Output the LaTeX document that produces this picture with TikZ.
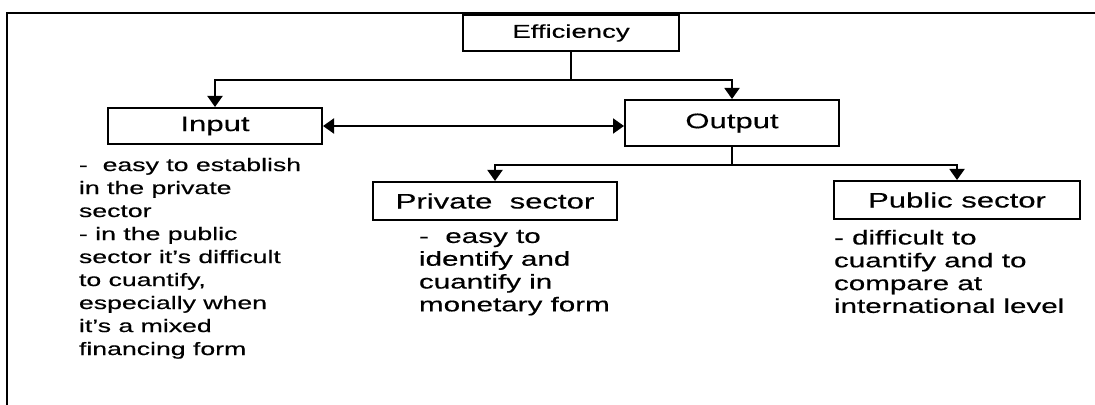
\documentclass[tikz,border=0pt]{standalone}
\usepackage{fontspec}
\setmainfont{Liberation Sans}[FakeStretch=1.48,FakeBold=0.4]
\usetikzlibrary{arrows.meta,positioning,calc}

\begin{document}
\begin{tikzpicture}[
  x=0.5pt, y=-0.5pt,
  font=\fontsize{9}{11.5}\selectfont, >={Triangle[length=5.5pt,width=7.5pt]},
  line width=1pt,
  box/.style={draw,line width=1pt,minimum height=18pt,inner sep=2pt,font=\fontsize{10.5}{12}\selectfont},
  note/.style={anchor=north west,align=left,inner sep=0pt},
  bignote/.style={note,font=\fontsize{10}{11.4}\selectfont},
]
\useasboundingbox (0,0) rectangle (1095,405);
% frame
\draw (6,13) -- (1095,13);
\draw (7,13) -- (7,405);

\node[box,minimum width=108pt,font=\fontsize{9.3}{11}\selectfont] (eff)  at (571,33)  {Efficiency\hspace{10pt}};
\node[box,minimum width=107pt] (inp)  at (215,126) {Input};
\node[box,minimum width=107pt,minimum height=23pt] (out)  at (732,123) {Output};
\node[box,minimum width=122pt,minimum height=19pt] (priv) at (495,201) {Private\ \ sector};
\node[box,minimum width=123pt,minimum height=19pt] (pub)  at (957,200) {Public sector};

\node[note] (inptxt)  at (78,157)  {-\ \ easy to establish\\in the private\\sector\\- in the public\\sector it's difficult\\to cuantify,\\especially when\\it's a mixed\\financing form};
\node[bignote] (privtxt) at (418,229) {-\ \ easy to\\identify and\\cuantify in\\monetary form};
\node[bignote] (pubtxt)  at (833,229) {- difficult to\\cuantify and to\\compare at\\international level};

% efficiency splits
\draw[->] (eff.south) -- ++(0,28) -| (inp.north);
\draw[->] (eff.south) -- ++(0,28) -| (out.north);
\draw[<->] (inp.east) -- (out.west |- inp.east);
% output splits
\draw[->] (out.south) -- ++(0,18) -| (priv.north);
\draw[->] (out.south) -- ++(0,18) -| (pub.north);
\end{tikzpicture}
\end{document}
